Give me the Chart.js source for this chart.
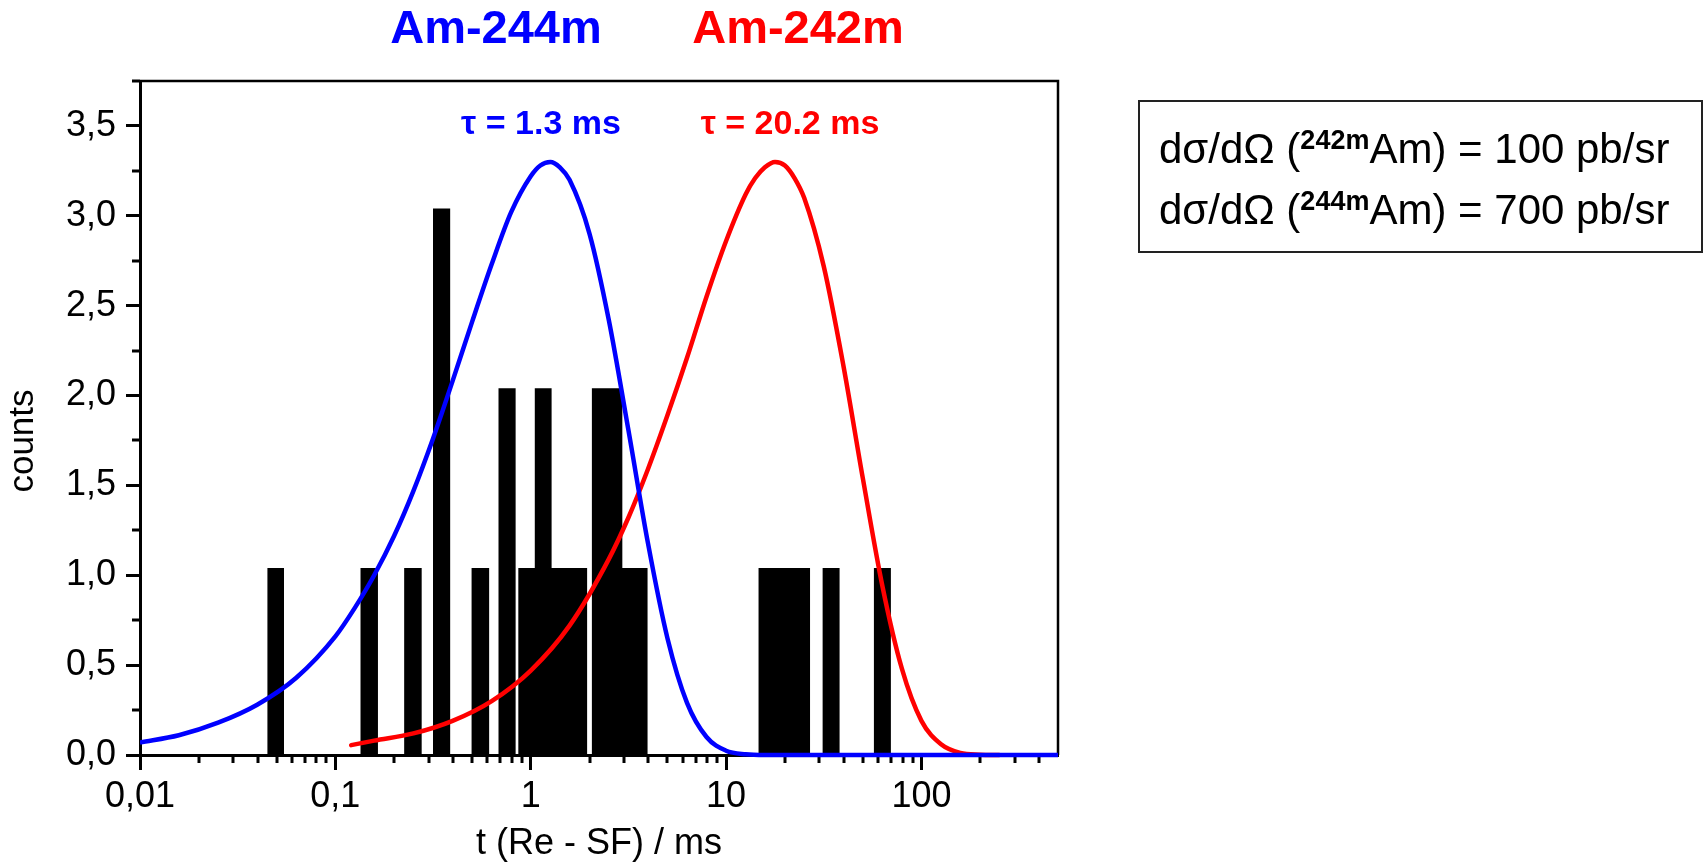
<!DOCTYPE html>
<html>
<head>
<meta charset="utf-8">
<script src="https://cdn.jsdelivr.net/npm/chart.js@4.4.0/dist/chart.umd.min.js"></script>
<style>
  html, body { margin: 0; padding: 0; background: #fff; }
  #wrap { position: relative; width: 1705px; height: 862px; }
</style>
</head>
<body>
<div id="wrap"><canvas id="chart" width="1705" height="862"></canvas></div>
<script>
// Histogram of decay times (ms): bin edges and counts
const binStart  = [0.0448, 0.1345, 0.225, 0.316, 0.498, 0.684, 0.864, 1.049, 1.279, 2.056, 2.944, 14.66, 31.2, 57.1];
const binEnd    = [0.0546, 0.1652, 0.2766, 0.387, 0.6126, 0.837, 1.049, 1.279, 1.944, 2.944, 3.963, 26.9, 38.1, 69.8];
const binCounts = [1.04, 1.04, 1.04, 3.04, 1.04, 2.04, 1.04, 2.04, 1.04, 2.04, 1.04, 1.04, 1.04, 1.04];

// Am-244m curve (blue)
const am244T = [0.01, 0.0158, 0.0251, 0.0398, 0.0631, 0.1, 0.126, 0.158, 0.2, 0.251, 0.316, 0.398, 0.501, 0.631, 0.794, 1.0, 1.12, 1.26, 1.41, 1.58, 2.0, 2.51, 3.16, 3.98, 5.01, 6.31, 7.94, 10, 12.6, 15.8, 25, 50, 100, 200, 500];
const am244Y = [0.07, 0.11, 0.18, 0.28, 0.43, 0.66, 0.82, 1.00, 1.22, 1.47, 1.76, 2.08, 2.41, 2.73, 3.02, 3.22, 3.28, 3.30, 3.27, 3.20, 2.90, 2.42, 1.81, 1.18, 0.65, 0.29, 0.10, 0.024, 0.004, 0, 0, 0, 0, 0, 0];

// Am-242m curve (red)
const am242T = [0.1205, 0.158, 0.251, 0.398, 0.631, 1.0, 1.58, 2.51, 3.16, 3.98, 5.01, 6.31, 7.94, 10, 12.6, 14.1, 15.8, 17.8, 20, 22.4, 25.1, 31.6, 39.8, 50.1, 63.1, 79.4, 100, 126, 158, 200, 250];
const am242Y = [0.055, 0.08, 0.12, 0.19, 0.30, 0.47, 0.72, 1.09, 1.32, 1.59, 1.89, 2.21, 2.55, 2.86, 3.12, 3.21, 3.27, 3.30, 3.28, 3.21, 3.10, 2.72, 2.17, 1.54, 0.94, 0.48, 0.19, 0.06, 0.012, 0.002, 0];

// Axis ticks
const xMajorTicks = [0.01, 0.1, 1, 10, 100];
const xMinorTicks = [0.02, 0.03, 0.04, 0.05, 0.06, 0.07, 0.08, 0.09,
                     0.2, 0.3, 0.4, 0.5, 0.6, 0.7, 0.8, 0.9,
                     2, 3, 4, 5, 6, 7, 8, 9,
                     20, 30, 40, 50, 60, 70, 80, 90,
                     200, 300, 400];
const yMajorTicks = [0, 0.5, 1, 1.5, 2, 2.5, 3, 3.5];
const yMinorTicks = [0.25, 0.75, 1.25, 1.75, 2.25, 2.75, 3.25, 3.75];

// Box text
const boxIsotopes = ['242m', '244m'];
const boxCrossSections = [100, 700];

const FONT = '"Liberation Sans", Arial, Helvetica, sans-serif';

function histogramOutline() {
    const pts = [];
    for (let i = 0; i < binStart.length; i++) {
        pts.push({ x: binStart[i], y: 0 });
        pts.push({ x: binStart[i], y: binCounts[i] });
        pts.push({ x: binEnd[i], y: binCounts[i] });
        pts.push({ x: binEnd[i], y: 0 });
    }
    return pts;
}

function toPoints(xs, ys) {
    return xs.map((x, i) => ({ x: x, y: ys[i] }));
}

function commaLabel(v) {
    return String(v).replace('.', ',');
}

const decorations = {
    id: 'decorations',
    beforeDatasetsDraw(chart) {
        const ctx = chart.ctx;
        const area = chart.chartArea;
        const xs = chart.scales.x;
        const ys = chart.scales.y;
        ctx.save();
        ctx.strokeStyle = '#000';
        ctx.lineWidth = 3;
        // minor ticks
        ctx.beginPath();
        xMinorTicks.forEach(v => {
            const px = Math.round(xs.getPixelForValue(v));
            ctx.moveTo(px, area.bottom);
            ctx.lineTo(px, area.bottom + 8);
        });
        yMinorTicks.forEach(v => {
            const py = Math.round(ys.getPixelForValue(v));
            ctx.moveTo(area.left, py);
            ctx.lineTo(area.left - 8, py);
        });
        ctx.stroke();
        // top and right frame
        ctx.lineWidth = 2.5;
        ctx.beginPath();
        ctx.moveTo(area.left, area.top);
        ctx.lineTo(area.right, area.top);
        ctx.lineTo(area.right, area.bottom);
        ctx.stroke();
        ctx.restore();
    },
    afterDraw(chart) {
        const ctx = chart.ctx;
        ctx.save();
        ctx.textAlign = 'center';
        ctx.textBaseline = 'middle';

        // series titles
        ctx.font = 'bold 47px ' + FONT;
        ctx.fillStyle = '#0000ff';
        ctx.fillText('Am-244m', 496, 30);
        ctx.fillStyle = '#ff0000';
        ctx.fillText('Am-242m', 798, 30);

        // lifetimes
        ctx.font = 'bold 34px ' + FONT;
        ctx.fillStyle = '#0000ff';
        ctx.fillText('\u03C4 = 1.3 ms', 541, 125);
        ctx.fillStyle = '#ff0000';
        ctx.fillText('\u03C4 = 20.2 ms', 790, 125);

        // y axis title
        ctx.fillStyle = '#000';
        ctx.font = '35px ' + FONT;
        ctx.save();
        ctx.translate(23, 441);
        ctx.rotate(-Math.PI / 2);
        ctx.fillText('counts', 0, 0);
        ctx.restore();

        // cross-section box
        ctx.strokeStyle = '#222';
        ctx.lineWidth = 2;
        ctx.strokeRect(1139, 101, 563, 151);
        ctx.textAlign = 'left';
        ctx.textBaseline = 'alphabetic';
        const baselines = [163, 224];
        boxIsotopes.forEach((iso, i) => {
            let cx = 1159;
            const y = baselines[i];
            ctx.font = '42px ' + FONT;
            const a = 'd\u03C3/d\u03A9 (';
            ctx.fillText(a, cx, y);
            cx += ctx.measureText(a).width;
            ctx.font = 'bold 27px ' + FONT;
            ctx.fillText(iso, cx, y - 14);
            cx += ctx.measureText(iso).width;
            ctx.font = '42px ' + FONT;
            ctx.fillText('Am) = ' + boxCrossSections[i] + ' pb/sr', cx, y);
        });
        ctx.restore();
    }
};

new Chart(document.getElementById('chart'), {
    type: 'line',
    data: {
        datasets: [
            {
                label: 'counts',
                data: histogramOutline(),
                borderWidth: 0,
                pointRadius: 0,
                backgroundColor: '#000',
                borderColor: '#000',
                fill: 'origin',
                tension: 0,
                order: 3
            },
            {
                label: 'Am-242m',
                data: toPoints(am242T, am242Y),
                borderColor: '#ff0000',
                borderWidth: 4.5,
                pointRadius: 0,
                fill: false,
                cubicInterpolationMode: 'monotone',
                borderCapStyle: 'round',
                clip: { left: 0, top: 0, right: 0, bottom: 6 },
                order: 2
            },
            {
                label: 'Am-244m',
                data: toPoints(am244T, am244Y),
                borderColor: '#0000ff',
                borderWidth: 4.5,
                pointRadius: 0,
                fill: false,
                cubicInterpolationMode: 'monotone',
                clip: { left: 0, top: 0, right: 0, bottom: 6 },
                order: 1
            }
        ]
    },
    options: {
        responsive: false,
        animation: false,
        devicePixelRatio: 1,
        layout: { padding: { left: 0, top: 81, right: 647, bottom: 0 } },
        plugins: {
            legend: { display: false },
            tooltip: { enabled: false }
        },
        scales: {
            x: {
                type: 'logarithmic',
                min: 0.01,
                max: 500,
                afterBuildTicks: s => { s.ticks = xMajorTicks.map(v => ({ value: v })); },
                afterFit: s => { s.height = 107; },
                grid: { drawOnChartArea: false, tickLength: 15, tickWidth: 3, tickColor: '#000' },
                border: { display: true, width: 3, color: '#000' },
                ticks: {
                    color: '#000',
                    font: { family: FONT, size: 36 },
                    padding: 5,
                    maxRotation: 0,
                    autoSkip: false,
                    callback: v => commaLabel(v)
                },
                title: {
                    display: true,
                    text: 't (Re - SF) / ms',
                    color: '#000',
                    font: { family: FONT, size: 36, lineHeight: 1 },
                    padding: { top: 0, bottom: 0 }
                }
            },
            y: {
                min: 0,
                max: 3.75,
                afterBuildTicks: s => { s.ticks = yMajorTicks.map(v => ({ value: v })); },
                afterFit: s => { s.width = 140; },
                grid: { drawOnChartArea: false, tickLength: 14, tickWidth: 3, tickColor: '#000' },
                border: { display: true, width: 3, color: '#000' },
                ticks: {
                    color: '#000',
                    font: { family: FONT, size: 36 },
                    padding: 10,
                    callback: v => v.toFixed(1).replace('.', ',')
                }
            }
        }
    },
    plugins: [decorations]
});
</script>
</body>
</html>
